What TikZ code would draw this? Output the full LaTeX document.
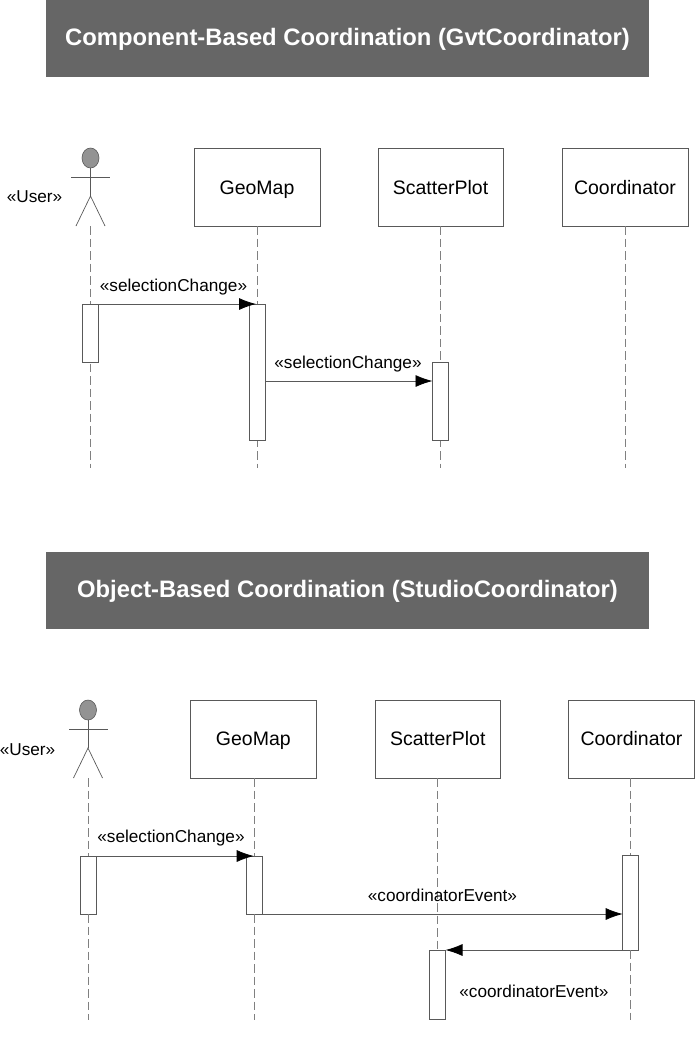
\documentclass[tikz,border=0pt]{standalone}
\usepackage{fontspec}
\setmainfont{Liberation Sans}
\usepackage{tikz}
\usetikzlibrary{calc,positioning,arrows.meta,shapes.geometric}

\definecolor{bannergray}{gray}{0.4}
\definecolor{linegray}{gray}{0.35}
\definecolor{dashgray}{gray}{0.5}

\tikzset{
    banner/.style={fill=bannergray,text=white,inner sep=0pt,outer sep=0pt,minimum width=603pt,minimum height=77pt,text height=19pt,text depth=4.6pt,font=\fontsize{23.8}{28}\selectfont\bfseries},
    objbox/.style={draw=linegray,fill=white,inner sep=0pt,outer sep=0pt,line width=0.9pt,minimum width=126pt,minimum height=78pt,text height=17.5pt,text depth=3.5pt,font=\fontsize{19.5}{24}\selectfont},
    lowbox/.style={objbox,text depth=4.5pt},
    bar/.style={draw=linegray,fill=white,inner sep=0pt,outer sep=0pt,line width=0.8pt,minimum width=16pt,anchor=north},
    head/.style={ellipse,draw=linegray,fill=gray!85,inner sep=0pt,outer sep=0pt,line width=0.6pt,minimum width=17pt,minimum height=20pt},
    lifeline/.style={draw=dashgray,line width=0.8pt,dash pattern=on 8.5pt off 4pt},
    limb/.style={draw=linegray,line width=0.7pt},
    msg/.style={draw=linegray,line width=0.8pt,-{Latex[black,length=17pt,width=12pt]}},
    msglabel/.style={inner sep=0pt,text height=13pt,text depth=4pt,font=\fontsize{17.2}{20}\selectfont}
}

\begin{document}
\begin{tikzpicture}[x=1pt,y=-1pt]
    \useasboundingbox (0,0) rectangle (695,1050);

    % first diagram
    \node (titleA) [banner] at (347.5,38.5) {Component-Based Coordination (GvtCoordinator)};
    \node (geomapA) [objbox] at (257,187) {GeoMap};
    \node (scatterA) [objbox, minimum width=125pt, right=58pt of geomapA] {ScatterPlot};
    \node (coordA) [objbox, right=59pt of scatterA] {Coordinator};
    \node (userA) [msglabel] at (34.5,197.8) {«User»};
    \coordinate (endA) at (0,468);
    \coordinate (footA) at (90.5,226);

    \node (headA) [head] at (90.5,158) {};
    \draw [limb] (headA.south) -- ++(0,28) coordinate (hipA);
    \draw [limb] (71,177) -- (110,177);
    \draw [limb] (76,226) -- (hipA) -- (105,226);

    \draw [lifeline] (footA) -- (footA |- endA);
    \foreach \obj in {geomapA,scatterA,coordA}
        \draw [lifeline] (\obj.south) -- (\obj.south |- endA);

    \node (userbarA) [bar, minimum height=58pt] at (90.5,304) {};
    \node (geomapbarA) [bar, minimum height=136pt] at (257,304) {};
    \node (scatterbarA) [bar, minimum height=78pt] at (440.5,362) {};

    \coordinate (msgA) at (0,381);
    \draw [msg, shorten >=-7pt] (userbarA.north east) -- (geomapbarA.north west);
    \draw [msg] (geomapbarA.east |- msgA) -- (scatterbarA.west |- msgA);
    \node (labelA) [msglabel] at (173.5,286.5) {«selectionChange»};
    \node (labelB) [msglabel] at (348,363.7) {«selectionChange»};

    % second diagram
    \node (titleB) [banner] at (347.5,590.5) {Object-Based Coordination (StudioCoordinator)};
    \node (geomapB) [lowbox] at (253.3,739) {GeoMap};
    \node (scatterB) [lowbox, minimum width=125pt, right=59pt of geomapB] {ScatterPlot};
    \node (coordB) [lowbox, right=68.2pt of scatterB] {Coordinator};
    \node (userB) [msglabel] at (27.5,750.8) {«User»};
    \coordinate (endB) at (0,1020);
    \coordinate (footB) at (88,778);

    \node (headB) [head] at (88,710) {};
    \draw [limb] (headB.south) -- ++(0,28) coordinate (hipB);
    \draw [limb] (69,729) -- (108,729);
    \draw [limb] (73.5,778) -- (hipB) -- (102.5,778);

    \node (userbarB) [bar, minimum height=58pt] at (88,856) {};
    \node (geomapbarB) [bar, minimum height=58pt] at (254.7,856) {};
    \node (coordbarB) [bar, minimum height=95pt] at (630.7,855) {};
    \node (scatterbarB) [bar, minimum height=69pt] at (437.5,950) {};

    \draw [lifeline] (footB) -- (footB |- userbarB.north);
    \draw [lifeline] (userbarB.south) -- (userbarB.south |- endB);
    \draw [lifeline] (geomapbarB.north |- geomapB.south) -- (geomapbarB.north);
    \draw [lifeline] (geomapbarB.south) -- (geomapbarB.south |- endB);
    \draw [lifeline] (scatterB.south) -- (scatterB.south |- scatterbarB.north);
    \draw [lifeline] (coordbarB.north |- coordB.south) -- (coordbarB.north);
    \draw [lifeline] (coordbarB.south) -- (coordbarB.south |- endB);

    \draw [msg, shorten >=-7pt] (userbarB.north east) -- (geomapbarB.north west);
    \draw [msg] (geomapbarB.south east) -- (geomapbarB.south east -| coordbarB.west);
    \draw [msg] (coordbarB.south west) -- (scatterbarB.north east);
    \node (labelC) [msglabel] at (171,838.2) {«selectionChange»};
    \node (labelD) [msglabel] at (442.5,897.2) {«coordinatorEvent»};
    \node (labelE) [msglabel] at (534,993.2) {«coordinatorEvent»};
\end{tikzpicture}
\end{document}
